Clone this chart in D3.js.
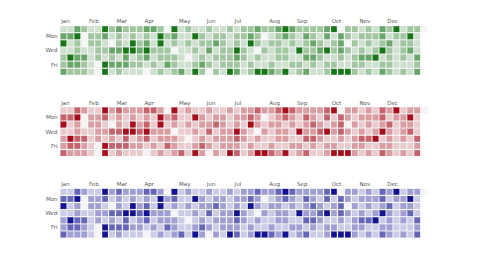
<!DOCTYPE html>
<html>
<head>
<meta charset="utf-8">
<script src="https://cdn.jsdelivr.net/npm/d3@7"></script>
<style>
  body { margin: 0; background: #fff; }
  svg { display: block; font-family: "DejaVu Sans", sans-serif; }
</style>
</head>
<body>
<div id="chart"></div>
<script>
// activity levels (0-4) per weekday row, one entry per week of 2017
const sunVals = [1,1,3,2,1,1,4,2,3,2,2,2,3,3,2,0,4,1, 2,1,1,2,1,1,2,1,2,2,3,2,2,3,4,3,2,2, 2,2,3,4,0,2,2,1,2,1,3,2,4,1,2,2,0];
const monVals = [3,3,4,0,2,2,3,1,2,1,2,1,2,1,4,2,3,1, 1,4,2,1,2,2,1,2,2,3,2,0,1,2,3,2,1,3, 2,1,3,1,3,2,1,2,2,2,3,1,2,2,4,1];
const tueVals = [4,1,2,0,2,2,1,0,2,1,4,2,3,1,4,1,2,1, 2,1,2,2,3,2,1,2,1,4,2,1,2,2,1,2,1,2, 3,2,1,2,3,0,2,1,2,1,2,3,1,2,2,1];
const wedVals = [1,1,2,1,1,2,2,3,3,4,4,3,4,2,2,2,0,1, 1,2,1,3,1,2,2,4,2,1,0,2,1,2,2,1,4,2, 2,3,4,2,3,2,1,2,1,2,4,2,1,2,3,1];
const thuVals = [2,4,3,3,1,2,1,2,1,3,1,2,3,1,2,2,2,1, 0,1,2,1,2,2,2,3,2,1,2,1,1,2,2,1,1,3, 3,2,1,1,2,1,2,3,3,4,1,2,1,2,1,3];
const friVals = [2,3,3,2,1,0,4,3,3,3,2,2,1,2,1,3,2,1, 1,2,3,2,1,2,2,2,1,2,1,1,2,1,1,2,2,1, 2,1,2,2,1,1,2,2,1,1,2,2,1,1,1,2];
const satVals = [3,2,2,2,1,0,4,1,2,1,1,1,0,1,2,1,2,3, 1,4,2,0,2,1,4,3,1,2,4,4,3,2,4,1,2,3, 1,1,2,4,4,4,2,1,2,1,3,2,1,2,1,3];

const monthNames = ['Jan','Feb','Mar','Apr','May','Jun','Jul','Aug','Sep','Oct','Nov','Dec'];
const dayLabels = ['', 'Mon', '', 'Wed', '', 'Fri', ''];
const palettes = [
    ['#f6f8f6', '#0b6f0b'],
    ['#fbf4f4', '#a3000f'],
    ['#f5f5fb', '#06068c']
];

const svgWidth = 480;
const svgHeight = 270;
const svg = d3.select('#chart').append('svg')
    .attr('width', svgWidth)
    .attr('height', svgHeight);

const year = 2017;
const start = new Date(year, 0, 1);
const days = d3.timeDays(start, new Date(year + 1, 0, 1));
const byDay = [sunVals, monVals, tueVals, wedVals, thuVals, friVals, satVals];
const cells = days.map(d => {
    const week = d3.timeWeek.count(start, d);
    return {date: d, week: week, day: d.getDay(), value: byDay[d.getDay()][week]};
});

const pitch = 6.91;
const x = d3.scaleBand()
    .domain(d3.range(53))
    .range([60.7, 60.7 + 53 * pitch])
    .paddingInner(0.2)
    .paddingOuter(0);

const panelTops = [26.3, 107.5, 189];

function renderCalendar(top, colors) {
    const y = d3.scaleBand()
        .domain(d3.range(7))
        .range([top, top + 7 * pitch])
        .paddingInner(0.2)
        .paddingOuter(0);
    const mix = d3.interpolateRgb(colors[0], colors[1]);
    const color = d3.scaleLinear()
        .domain([0, 1, 2, 3, 4])
        .range([0, 0.17, 0.36, 0.6, 0.95])
        .clamp(true);

    const g = svg.append('g');

    g.selectAll('rect')
        .data(cells)
        .join('rect')
        .attr('x', d => x(d.week))
        .attr('y', d => y(d.day))
        .attr('width', x.bandwidth())
        .attr('height', y.bandwidth())
        .attr('fill', d => mix(color(d.value)))
        .attr('stroke', d => d3.color(mix(color(d.value))).darker(0.25))
        .attr('stroke-width', 0.3);

    // month labels at the week of the 1st
    g.selectAll('text.month')
        .data(d3.timeMonths(start, new Date(year + 1, 0, 1)))
        .join('text')
        .attr('class', 'month')
        .attr('x', d => x(d3.timeWeek.count(start, d)) + 0.5)
        .attr('y', top - 3)
        .attr('font-size', '5.5px')
        .attr('fill', '#555')
        .text((d, i) => monthNames[i]);

    g.selectAll('text.day')
        .data(dayLabels)
        .join('text')
        .attr('class', 'day')
        .attr('x', 57.5)
        .attr('y', (d, i) => y(i) + y.bandwidth() / 2)
        .attr('dominant-baseline', 'central')
        .attr('text-anchor', 'end')
        .attr('font-size', '5.5px')
        .attr('fill', '#555')
        .text(d => d);
}

panelTops.forEach((top, i) => renderCalendar(top, palettes[i]));
</script>
</body>
</html>
